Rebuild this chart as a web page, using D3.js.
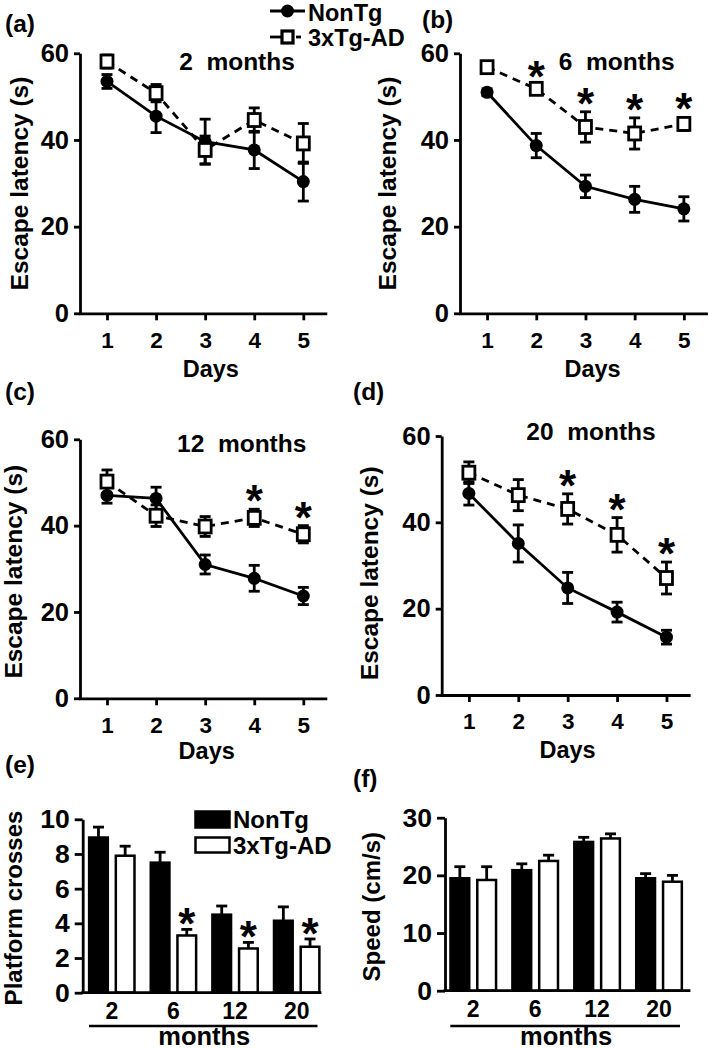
<!DOCTYPE html>
<html><head><meta charset="utf-8">
<script src="https://cdn.jsdelivr.net/npm/d3@7/dist/d3.min.js"></script>
<style>
body{margin:0;background:#fff}
svg text{font-family:"Liberation Sans",Arial,sans-serif;font-weight:bold;fill:#000}
</style></head><body>
<svg id="c" width="709" height="1048"></svg>
<script>
// ---------- data ----------
const days = [1, 2, 3, 4, 5];
const latencyTicks = [0, 20, 40, 60];
const seriesNames = ["NonTg", "3xTg-AD"];

// (a) 2 months
const a_nonTg = [53.5, 45.5, 39.6, 37.7, 30.4];
const a_nonTgErr = [1.6, 3.8, 5.2, 4.3, 4.5];
const a_tg = [58.1, 50.8, 37.7, 44.6, 39.2];
const a_tgErr = [1.5, 2.0, 3.2, 2.8, 4.6];
const a_sig = [false, false, false, false, false];
// (b) 6 months
const b_nonTg = [51.0, 38.7, 29.3, 26.3, 24.1];
const b_nonTgErr = [0.8, 2.8, 2.6, 3.0, 2.8];
const b_tg = [56.8, 51.8, 43.0, 41.5, 43.7];
const b_tgErr = [1.0, 1.0, 3.5, 3.6, 1.5];
const b_sig = [false, true, true, true, true];
// (c) 12 months
const c_nonTg = [47.0, 46.3, 31.0, 27.8, 23.7];
const c_nonTgErr = [1.8, 2.6, 2.2, 3.0, 2.0];
const c_tg = [50.2, 42.3, 39.8, 41.8, 38.0];
const c_tgErr = [2.7, 2.5, 2.3, 2.0, 2.0];
const c_sig = [false, false, false, true, true];
// (d) 20 months
const d_nonTg = [46.7, 35.1, 24.8, 19.2, 13.4];
const d_nonTgErr = [2.7, 4.3, 3.6, 2.3, 1.6];
const d_tg = [51.5, 46.3, 43.1, 37.1, 27.1];
const d_tgErr = [2.5, 3.6, 3.5, 4.0, 3.7];
const d_sig = [false, false, true, true, true];

// (e) platform crosses
const monthGroups = ["2", "6", "12", "20"];
const crossTicks = [0, 2, 4, 6, 8, 10];
const e_nonTg = [8.95, 7.5, 4.5, 4.15];
const e_nonTgErr = [0.6, 0.6, 0.5, 0.8];
const e_tg = [7.9, 3.3, 2.55, 2.65];
const e_tgErr = [0.55, 0.35, 0.35, 0.45];
const e_sig = [false, true, true, true];
// (f) speed
const speedTicks = [0, 10, 20, 30];
const f_nonTg = [19.5, 20.9, 25.8, 19.5];
const f_nonTgErr = [2.0, 1.1, 0.8, 0.8];
const f_tg = [19.2, 22.5, 26.4, 18.9];
const f_tgErr = [2.3, 1.0, 0.8, 1.1];
const f_sig = [false, false, false, false];

// ---------- drawing ----------
const svg = d3.select("#c");
const SW = 2.8;

function txt(x, y, s, size, anchor, rot) {
  const t = svg.append("text").attr("x", x).attr("y", y).text(s)
    .attr("font-size", size).attr("text-anchor", anchor || "start")
    .style("white-space", "pre");
  if (rot) t.attr("transform", `rotate(-90,${x},${y})`);
  return t;
}

function styleAxis(g, fs) {
  g.select(".domain").attr("stroke", "#000").attr("stroke-width", SW);
  g.selectAll(".tick line").attr("stroke", "#000").attr("stroke-width", SW);
  g.selectAll(".tick text").attr("font-size", fs).attr("fill", "#000");
}

function linePanel(p) {
  const x = d3.scaleLinear().domain([0.45, 5.45]).range([p.left, p.right]);
  const y = d3.scaleLinear().domain([0, 60]).range([p.bottom, p.top]);
  const gy = svg.append("g").attr("transform", `translate(${p.left},0)`)
    .call(d3.axisLeft(y).tickValues(latencyTicks).tickSize(6).tickPadding(5).tickSizeOuter(0));
  styleAxis(gy, 25.5);
  const gx = svg.append("g").attr("transform", `translate(0,${p.bottom})`)
    .call(d3.axisBottom(x).tickValues(days).tickFormat(d3.format("d")).tickSize(7).tickPadding(11.5).tickSizeOuter(0));
  styleAxis(gx, 22.5);
  gx.select(".domain").attr("stroke-linecap", "square");

  const line = d3.line().x((d, i) => x(days[i])).y(d => y(d));
  svg.append("path").datum(p.tg).attr("d", line).attr("fill", "none")
    .attr("stroke", "#000").attr("stroke-width", SW).attr("stroke-dasharray", "8,6");
  svg.append("path").datum(p.nonTg).attr("d", line).attr("fill", "none")
    .attr("stroke", "#000").attr("stroke-width", SW);

  function err(vals, errs) {
    const g = svg.append("g").attr("stroke", "#000").attr("stroke-width", SW);
    vals.forEach((v, i) => {
      const cx = x(days[i]);
      g.append("line").attr("x1", cx).attr("x2", cx).attr("y1", y(v - errs[i])).attr("y2", y(v + errs[i]));
      g.append("line").attr("x1", cx - 5.5).attr("x2", cx + 5.5).attr("y1", y(v - errs[i])).attr("y2", y(v - errs[i]));
      g.append("line").attr("x1", cx - 5.5).attr("x2", cx + 5.5).attr("y1", y(v + errs[i])).attr("y2", y(v + errs[i]));
    });
  }
  err(p.nonTg, p.nonTgErr);
  err(p.tg, p.tgErr);

  svg.append("g").selectAll("circle").data(p.nonTg).join("circle")
    .attr("cx", (d, i) => x(days[i])).attr("cy", d => y(d)).attr("r", 6.5).attr("fill", "#000");
  svg.append("g").selectAll("rect").data(p.tg).join("rect")
    .attr("x", (d, i) => x(days[i]) - 6).attr("y", d => y(d) - 6.5).attr("width", 12).attr("height", 13)
    .attr("fill", "#fff").attr("stroke", "#000").attr("stroke-width", SW);

  p.sig.forEach((s, i) => {
    if (s) txt(x(days[i]), y(p.tg[i] + p.tgErr[i]) + 7, "*", 44, "middle");
  });

  txt(p.titleX, p.titleY, p.title, 24.5, "middle");
  txt(p.daysX, p.daysY, "Days", 23.5, "middle");
  txt(p.ytX, p.ytY, "Escape latency (s)", 24.5, "middle", true);
  txt(p.labX, p.labY, p.label, 24.5, "start");
}

linePanel({left: 80, right: 325.4, top: 53.3, bottom: 313.3, title: "2  months", titleX: 237, titleY: 70,
  daysX: 210.8, daysY: 377, ytX: 28, ytY: 183.5, label: "(a)", labX: 5, labY: 32,
  nonTg: a_nonTg, nonTgErr: a_nonTgErr, tg: a_tg, tgErr: a_tgErr, sig: a_sig});
linePanel({left: 460, right: 706, top: 53.3, bottom: 313.3, title: "6  months", titleX: 616.7, titleY: 70,
  daysX: 592.5, daysY: 377, ytX: 396, ytY: 183.5, label: "(b)", labX: 422, labY: 28,
  nonTg: b_nonTg, nonTgErr: b_nonTgErr, tg: b_tg, tgErr: b_tgErr, sig: b_sig});
linePanel({left: 80, right: 325.4, top: 439.3, bottom: 698.3, title: "12  months", titleX: 241.7, titleY: 452,
  daysX: 206.7, daysY: 759, ytX: 22, ytY: 571.7, label: "(c)", labX: 5, labY: 400,
  nonTg: c_nonTg, nonTgErr: c_nonTgErr, tg: c_tg, tgErr: c_tgErr, sig: c_sig});
linePanel({left: 441.7, right: 688.7, top: 436, bottom: 695, title: "20  months", titleX: 591, titleY: 440,
  daysX: 567.5, daysY: 758, ytX: 378, ytY: 573.3, label: "(d)", labX: 353, labY: 400,
  nonTg: d_nonTg, nonTgErr: d_nonTgErr, tg: d_tg, tgErr: d_tgErr, sig: d_sig});

// top legend
(function () {
  svg.append("line").attr("x1", 270).attr("x2", 305).attr("y1", 11).attr("y2", 11)
    .attr("stroke", "#000").attr("stroke-width", SW);
  svg.append("circle").attr("cx", 287.5).attr("cy", 11).attr("r", 6.5).attr("fill", "#000");
  txt(308, 20.5, seriesNames[0], 23.5, "start");
  svg.append("line").attr("x1", 270).attr("x2", 281).attr("y1", 37).attr("y2", 37)
    .attr("stroke", "#000").attr("stroke-width", SW);
  svg.append("line").attr("x1", 296).attr("x2", 301).attr("y1", 37).attr("y2", 37)
    .attr("stroke", "#000").attr("stroke-width", SW);
  svg.append("rect").attr("x", 282).attr("y", 31).attr("width", 11).attr("height", 12)
    .attr("fill", "#fff").attr("stroke", "#000").attr("stroke-width", 3.2);
  txt(308, 46, seriesNames[1], 23.5, "start");
})();

function barPanel(p) {
  const y = d3.scaleLinear().domain([0, p.max]).range([p.bottom, p.top]);
  const x0 = d3.scaleBand().domain(monthGroups).range([p.gl, p.gr]).padding(0);
  const x1 = d3.scaleBand().domain(seriesNames).range([0, x0.bandwidth()]).paddingInner(0.21).paddingOuter(0.26);

  const gy = svg.append("g").attr("transform", `translate(${p.left},0)`)
    .call(d3.axisLeft(y).tickValues(p.ticks).tickSize(8).tickPadding(5).tickSizeOuter(0));
  styleAxis(gy, 26.5);

  const series = [[p.nonTg, p.nonTgErr, "#000"], [p.tg, p.tgErr, "#fff"]];
  series.forEach(([vals, errs, fill], si) => {
    const g = svg.append("g");
    vals.forEach((v, i) => {
      const bx = x0(monthGroups[i]) + x1(seriesNames[si]);
      const bw = x1.bandwidth();
      const cx = bx + bw / 2;
      g.append("line").attr("x1", cx).attr("x2", cx).attr("y1", y(v)).attr("y2", y(v + errs[i]))
        .attr("stroke", "#000").attr("stroke-width", SW);
      g.append("line").attr("x1", cx - 5.5).attr("x2", cx + 5.5).attr("y1", y(v + errs[i])).attr("y2", y(v + errs[i]))
        .attr("stroke", "#000").attr("stroke-width", SW);
      g.append("rect").attr("x", bx + 1.2).attr("y", y(v)).attr("width", bw - 2.4).attr("height", y(0) - y(v))
        .attr("fill", fill).attr("stroke", "#000").attr("stroke-width", 2.5);
    });
  });
  p.sig.forEach((s, i) => {
    if (s) {
      const cx = x0(monthGroups[i]) + x1(seriesNames[1]) + x1.bandwidth() / 2;
      txt(cx, y(p.tg[i] + p.tgErr[i]) + 10, "*", 44, "middle");
    }
  });
  // baseline axis
  svg.append("line").attr("x1", p.left).attr("x2", p.lineRight).attr("y1", p.bottom).attr("y2", p.bottom)
    .attr("stroke", "#000").attr("stroke-width", SW).attr("stroke-linecap", "square");
  const gx = svg.append("g").attr("transform", `translate(0,${p.bottom})`)
    .call(d3.axisBottom(x0).tickSize(0).tickPadding(10));
  gx.select(".domain").remove();
  gx.selectAll(".tick text").attr("font-size", 23).attr("fill", "#000");
  svg.append("line").attr("x1", p.gl + 8).attr("x2", p.gr - 10).attr("y1", p.ul).attr("y2", p.ul)
    .attr("stroke", "#000").attr("stroke-width", 2.6);
  txt((p.gl + p.gr) / 2, 1044.5, "months", 25.5, "middle");
  txt(p.ytX, p.ytY, p.ytitle, 24, "middle", true);
  txt(p.labX, p.labY, p.label, 24.5, "start");
}

barPanel({left: 82.7, top: 819.3, bottom: 992.7, max: 10, ticks: crossTicks, gl: 81, gr: 327.5, lineRight: 320,
  ul: 1026, ytitle: "Platform crosses", ytX: 22, ytY: 908, label: "(e)", labX: 5, labY: 773,
  nonTg: e_nonTg, nonTgErr: e_nonTgErr, tg: e_tg, tgErr: e_tgErr, sig: e_sig});
barPanel({left: 445, top: 817.7, bottom: 990.7, max: 30, ticks: speedTicks, gl: 442.3, gr: 690, lineRight: 689,
  ul: 1026, ytitle: "Speed (cm/s)", ytX: 380, ytY: 906.7, label: "(f)", labX: 353, labY: 787,
  nonTg: f_nonTg, nonTgErr: f_nonTgErr, tg: f_tg, tgErr: f_tgErr, sig: f_sig});

// bar legend (e)
(function () {
  svg.append("rect").attr("x", 195.5).attr("y", 811.5).attr("width", 34).attr("height", 16)
    .attr("fill", "#000").attr("stroke", "#000").attr("stroke-width", 2.5);
  txt(233, 827.5, seriesNames[0], 24, "start");
  svg.append("rect").attr("x", 195.5).attr("y", 837.5).attr("width", 34).attr("height", 15)
    .attr("fill", "#fff").attr("stroke", "#000").attr("stroke-width", 2.5);
  txt(233, 853.5, seriesNames[1], 24, "start");
})();
</script>
</body></html>
